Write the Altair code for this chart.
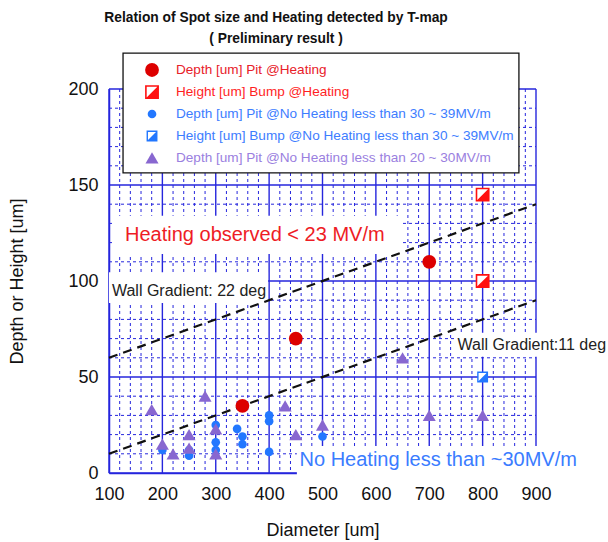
import altair as alt
import pandas as pd

# ---------------- data ----------------
heat_pit_x = [350, 450, 700]
heat_pit_y = [35, 70, 110]

heat_bump_x = [800, 800]
heat_bump_y = [145, 100]

noheat_pit_x = [200, 250, 250, 300, 300, 300, 340, 350, 350, 400, 400, 400, 500]
noheat_pit_y = [12, 12, 9, 25, 16, 12, 23, 19, 15, 30, 27, 11, 19]

noheat_bump_x = [800]
noheat_bump_y = [50]

low_pit_x = [180, 200, 220, 250, 250, 280, 300, 300, 430, 450, 500, 650, 700, 800]
low_pit_y = [33, 15, 10, 20, 13, 40, 23, 10, 35, 20, 25, 60, 30, 30]

wall_x = [100, 900]
wall22_y = [60, 140]
wall11_y = [10, 90]

x_ticks = [100, 200, 300, 400, 500, 600, 700, 800, 900]
y_ticks = [0, 50, 100, 150, 200]
minor_x = [v for v in range(120, 900, 20) if v % 100]
minor_y = [v for v in range(10, 200, 10) if v % 50]

legend_labels = [
    "Depth [um] Pit @Heating",
    "Height [um] Bump @Heating",
    "Depth [um] Pit @No Heating less than 30 ~ 39MV/m",
    "Height [um] Bump @No Heating less than 30 ~ 39MV/m",
    "Depth [um] Pit @No Heating less than 20 ~ 30MV/m",
]
legend_colors = ["#e8202a", "#ff1f1f", "#3d7dff", "#3d7dff", "#9a80e0"]

title_lines = ["Relation of Spot size and Heating detected by T-map", "( Preliminary result )"]

RED = "#dd0000"
RED2 = "#ff1010"
BLUE = "#2277ff"
PURPLE = "#8867d0"
GRID = "#2626dd"
FONT = "Liberation Sans"
HALF = "M1,-1L1,1L-1,1Z"

xs = alt.Scale(domain=[100, 900], nice=False, zero=False)
ys = alt.Scale(domain=[0, 200], nice=False, zero=False)

AX_X = alt.Axis(
    values=x_ticks, format="d", title="Diameter [um]", grid=False, ticks=False, tickSize=0,
    labelFlush=False, labelOverlap=False,
    domainColor=GRID, domainWidth=1.5, labelFont=FONT, labelFontSize=18, labelColor="#111",
    labelPadding=12, titleFont=FONT, titleFontSize=18, titleFontWeight="normal",
    titleColor="#111", titleY=57, titleBaseline="middle")
AX_Y = alt.Axis(
    values=y_ticks, format="d", title="Depth or Height [um]", grid=False, ticks=False, tickSize=0,
    labelFlush=False, labelOverlap=False,
    domainColor=GRID, domainWidth=1.5, labelFont=FONT, labelFontSize=18, labelColor="#111",
    labelPadding=11, titleFont=FONT, titleFontSize=18, titleFontWeight="normal",
    titleColor="#111", titleX=-92, titleBaseline="middle", titleAngle=-90)


def X(f="x"):
    return alt.X(f"{f}:Q", scale=xs, axis=AX_X)


def Y(f="y"):
    return alt.Y(f"{f}:Q", scale=ys, axis=AX_Y)


# ---------------- axes carrier + grid ----------------
axes_layer = alt.Chart(pd.DataFrame({"x": [100, 900], "y": [0, 200]})).mark_point(
    opacity=0, size=1).encode(x=X(), y=Y())

minor_v = alt.Chart(pd.DataFrame({"x": minor_x})).mark_rule(
    color=GRID, strokeWidth=1.0, strokeDash=[3, 3]
).encode(x=X(), y=alt.value(0), y2=alt.value(384))

minor_h = alt.Chart(pd.DataFrame({"y": minor_y})).mark_rule(
    color=GRID, strokeWidth=1.0, strokeDash=[3, 3]
).encode(y=Y(), x=alt.value(0), x2=alt.value(427))

major_v = alt.Chart(pd.DataFrame({"x": x_ticks})).mark_rule(
    color=GRID, strokeWidth=1.4).encode(x=X(), y=alt.value(0), y2=alt.value(384))
major_h = alt.Chart(pd.DataFrame({"y": y_ticks})).mark_rule(
    color=GRID, strokeWidth=1.4).encode(y=Y(), x=alt.value(0), x2=alt.value(427))

# ---------------- white label backgrounds ----------------
boxes = pd.DataFrame({
    "x1": [107.5, 100, 748, 452],
    "x2": [650, 398, 1000, 1000],
    "y1": [134, 104.5, 73, 14],
    "y2": [114, 88.5, 60.5, -1.5],
})
box_layer = alt.Chart(boxes).mark_rect(fill="white", stroke=None).encode(
    x=X("x1"), x2="x2", y=Y("y1"), y2="y2")

# ---------------- gradient lines ----------------
walls = pd.DataFrame({
    "x": wall_x + wall_x,
    "y": wall22_y + wall11_y,
    "g": ["22"] * 2 + ["11"] * 2,
})
wall_layer = alt.Chart(walls).mark_line(
    color="#111", strokeWidth=2.2, strokeDash=[9, 6]).encode(
    x=X(), y=Y(), detail="g:N")


# ---------------- annotation texts ----------------
def text_layer(x, y, txt, color, size, weight="normal", align="left"):
    return alt.Chart(pd.DataFrame({"x": [x], "y": [y], "t": [txt]})).mark_text(
        align=align, baseline="middle", font=FONT, fontSize=size, color=color,
        fontWeight=weight).encode(x=X(), y=Y(), text="t:N")


ann = [
    text_layer(130, 124, "Heating observed < 23 MV/m", "#ee1c25", 20),
    text_layer(105.5, 95, "Wall Gradient: 22 deg", "#222", 16),
    text_layer(753, 66.7, "Wall Gradient:11 deg", "#222", 16),
    text_layer(457, 6.8, "No Heating less than ~30MV/m", "#3a7cff", 20),
    text_layer(413, 237, title_lines[0], "#111", 13.8, "bold", "center"),
    text_layer(413, 226, title_lines[1], "#111", 13.8, "bold", "center"),
]


# ---------------- data points ----------------
def pts(xv, yv):
    return pd.DataFrame({"x": xv, "y": yv})


blue_c = alt.Chart(pts(noheat_pit_x, noheat_pit_y)).mark_point(
    shape="circle", filled=True, color=BLUE, size=75, opacity=1).encode(x=X(), y=Y())
tri = alt.Chart(pts(low_pit_x, low_pit_y)).mark_point(
    shape="triangle-up", filled=True, color=PURPLE, size=170, opacity=1).encode(x=X(), y=Y())
red_c = alt.Chart(pts(heat_pit_x, heat_pit_y)).mark_point(
    shape="circle", filled=True, color=RED, size=190, opacity=1).encode(x=X(), y=Y())
red_sq = alt.Chart(pts(heat_bump_x, heat_bump_y)).mark_point(
    shape="square", filled=True, fill="white", stroke=RED2, strokeWidth=1.6, size=150,
    opacity=1).encode(x=X(), y=Y())
red_half = alt.Chart(pts(heat_bump_x, heat_bump_y)).mark_point(
    shape=HALF, filled=True, color=RED2, size=150, opacity=1).encode(x=X(), y=Y())
blue_sq = alt.Chart(pts(noheat_bump_x, noheat_bump_y)).mark_point(
    shape="square", filled=True, fill="white", stroke=BLUE, strokeWidth=1.4, size=90,
    opacity=1).encode(x=X(), y=Y())
blue_half = alt.Chart(pts(noheat_bump_x, noheat_bump_y)).mark_point(
    shape=HALF, filled=True, color=BLUE, size=90, opacity=1).encode(x=X(), y=Y())

# ---------------- legend ----------------
leg_rows = [209.9, 198.4, 187.0, 175.5, 164.1]
leg_sym_x = 180.6
leg_txt_x = 225.5

leg_box = alt.Chart(pd.DataFrame({"x1": [126.3], "x2": [868], "y1": [218.7], "y2": [156.3]})).mark_rect(
    fill="white", stroke="#111", strokeWidth=1.3).encode(x=X("x1"), x2="x2", y=Y("y1"), y2="y2")


def leg_pt(i, **kw):
    return alt.Chart(pts([leg_sym_x], [leg_rows[i]])).mark_point(opacity=1, **kw).encode(x=X(), y=Y())


leg_syms = [
    leg_pt(0, shape="circle", filled=True, color=RED, size=190),
    leg_pt(1, shape="square", filled=True, fill="white", stroke=RED2, strokeWidth=1.6, size=150),
    leg_pt(1, shape=HALF, filled=True, color=RED2, size=150),
    leg_pt(2, shape="circle", filled=True, color=BLUE, size=75),
    leg_pt(3, shape="square", filled=True, fill="white", stroke=BLUE, strokeWidth=1.4, size=90),
    leg_pt(3, shape=HALF, filled=True, color=BLUE, size=90),
    leg_pt(4, shape="triangle-up", filled=True, color=PURPLE, size=170),
]

leg_df = pd.DataFrame({"x": [leg_txt_x] * 5, "y": leg_rows, "t": legend_labels, "c": legend_colors})
leg_txt = alt.Chart(leg_df).mark_text(
    align="left", baseline="middle", font=FONT, fontSize=13.6).encode(
    x=X(), y=Y(), text="t:N", color=alt.Color("c:N", scale=None))

chart = alt.layer(
    axes_layer, minor_v, minor_h, major_v, major_h, box_layer, *ann, wall_layer,
    blue_c, tri, red_c, red_sq, red_half, blue_sq, blue_half,
    leg_box, *leg_syms, leg_txt,
).properties(
    width=427, height=384,
    autosize=alt.AutoSizeParams(type="none"),
    padding={"left": 109, "top": 89, "right": 72, "bottom": 69},
    background="white",
).configure_view(stroke=None)

chart.save("out.html", embed_options={"renderer": "svg", "actions": False})
